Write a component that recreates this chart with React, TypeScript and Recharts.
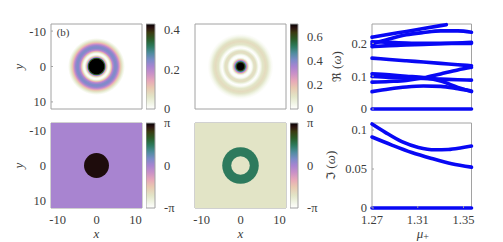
import React from "react";
import { ScatterChart, Scatter, ComposedChart, Line, Area, XAxis, YAxis, ReferenceArea, ReferenceDot, Label } from "recharts";

const FONT = "'Liberation Serif', serif";
const TXT = "#3c3c3c";
const EDGE = "#a2a2a2";
const GUT = 46;

const mapValues = [0, 0.08, 0.15, 0.25, 0.33, 0.42, 0.5, 0.58, 0.66, 0.74, 0.82, 0.9, 0.96, 1];
const mapColors = ["#ffffff", "#eef2e0", "#e2e4c6", "#e8c8b0", "#e8a8b8", "#c890c8", "#a884d0", "#7a8cc8", "#4d8c9c", "#2c7a5c", "#2a5c28", "#3a3a10", "#2a1010", "#000000"];

const densityRadii1 = [0, 1.9, 2.19, 2.44, 2.7, 2.96, 3.16, 3.42, 3.68, 3.93, 4.19, 4.63, 5.01, 5.4, 5.78, 6.17, 6.56, 6.94, 7.33];
const densityValues1 = [0.43, 0.43, 0.32, 0.17, 0.07, 0.015, 0.002, 0.02, 0.07, 0.14, 0.2, 0.24, 0.245, 0.225, 0.175, 0.11, 0.06, 0.025, 0];
const densityRadii2 = [0, 0.9, 1.16, 1.29, 1.54, 1.8, 2.06, 2.3, 2.6, 2.96, 3.2, 3.47, 3.98, 4.37, 4.76, 5.14, 5.66, 6.43, 6.94, 7.46, 7.97, 8.48];
const densityValues2 = [0.72, 0.7, 0.58, 0.5, 0.35, 0.2, 0.07, 0.01, 0, 0.02, 0.07, 0.12, 0.12, 0.05, 0, 0.03, 0.1, 0.13, 0.11, 0.06, 0.02, 0];

const phaseBg1 = 0;
const phaseDisc1 = [{ x: 0, y: 0, radius: 3.21, phase: 2.96 }];
const phaseBg2 = -2.2;
const phaseDisc2 = [
  { x: 0, y: 0, radius: 4.7, phase: 1.5 },
  { x: 0, y: 0, radius: 2.39, phase: -2.2 },
];

const heatTicks = [-10, 0, 10];
const bar1Ticks = [0, 0.2, 0.4];
const bar2Ticks = [0, 0.2, 0.4, 0.6];
const phaseTicks = [-Math.PI, 0, Math.PI];
const phaseLabels = ["-π", "0", "π"];
const muTicks = [1.27, 1.31, 1.35];
const reTicks = [0, 0.1, 0.2];
const imTicks = [0, 0.05, 0.1];

const mu = [1.27, 1.285, 1.3, 1.315, 1.33, 1.345, 1.357];
const muShort = [1.27, 1.285, 1.3, 1.315, 1.33, 1.335];
const re0 = [0, 0, 0, 0, 0, 0, 0];
const re1 = [0.219, 0.228, 0.236, 0.245, 0.254, 0.257];
const re2 = [0.198, 0.213, 0.226, 0.233, 0.238, 0.238, 0.234];
const re3 = [0.19, 0.193, 0.195, 0.197, 0.199, 0.201, 0.203];
const re4 = [0.205, 0.203, 0.201, 0.2, 0.2, 0.2, 0.2];
const re5 = [0.155, 0.151, 0.147, 0.143, 0.139, 0.135, 0.132];
const re6 = [0.107, 0.104, 0.1, 0.096, 0.085, 0.066, 0.053];
const re7 = [0.099, 0.096, 0.094, 0.093, 0.091, 0.089, 0.088];
const re8 = [0.082, 0.084, 0.087, 0.095, 0.107, 0.119, 0.127];
const re9 = [0.053, 0.061, 0.067, 0.07, 0.069, 0.062, 0.055];

const muIm1 = [1.27, 1.2816, 1.2961, 1.3106, 1.3251, 1.3367, 1.3483, 1.357];
const im1 = [0.1077, 0.097, 0.085, 0.0777, 0.0747, 0.0751, 0.0773, 0.0794];
const muIm2 = [1.27, 1.2874, 1.3048, 1.3222, 1.3396, 1.357];
const im2 = [0.091, 0.0807, 0.0712, 0.0635, 0.0567, 0.0524];
const muIm0 = [1.27, 1.357];
const im0 = [0, 0];

const hex = (c: string) => [1, 3, 5].map((i) => parseInt(c.slice(i, i + 2), 16));
function colorAt(t: number) {
  const v = Math.max(0, Math.min(1, t));
  let i = 0;
  while (i < mapValues.length - 2 && v > mapValues[i + 1]) i++;
  const f = (v - mapValues[i]) / (mapValues[i + 1] - mapValues[i]);
  const a = hex(mapColors[i]);
  const b = hex(mapColors[i + 1]);
  return `rgb(${a.map((x, k) => Math.round(x + (b[k] - x) * f)).join(",")})`;
}
const phaseColor = (p: number) => colorAt((p + Math.PI) / (2 * Math.PI));

function radialStops(radii: number[], values: number[], max: number) {
  const R = radii[radii.length - 1];
  const out: { o: number; c: string }[] = [];
  for (let i = 0; i < radii.length - 1; i++) {
    for (let k = 0; k < 5; k++) {
      const f = k / 5;
      const r = radii[i] + (radii[i + 1] - radii[i]) * f;
      const v = values[i] + (values[i + 1] - values[i]) * f;
      out.push({ o: r / R, c: colorAt(v / max) });
    }
  }
  out.push({ o: 1, c: colorAt(values[values.length - 1] / max) });
  return out;
}

const PX_PER_UNIT = 91 / 23.4;
const tickStyle = { fontFamily: FONT, fontSize: 12.5, fill: TXT };
const axisLabelStyle = { fontFamily: FONT, fontSize: 13, fontStyle: "italic", fill: TXT, textAnchor: "middle" } as any;

type Box = { l: number; t: number; w: number; h: number };
function place(box: Box, gutL: number, gutB: number, showX: boolean) {
  const extra = showX ? 0 : 8;
  return {
    style: { position: "absolute" as const, left: box.l - gutL, top: box.t - 6 },
    width: gutL + box.w + 8,
    height: box.h + 6 + gutB + extra,
    margin: { top: 6, right: 8, left: 0, bottom: extra },
  };
}

function HeatFrame({ box, showX, yLabel = "y", children }: any) {
  const p = place(box, GUT, showX ? 34 : 2, showX);
  return (
    <div style={p.style}>
      <ScatterChart width={p.width} height={p.height} margin={p.margin}>
        <XAxis
          type="number" dataKey="x" domain={[-11.7, 11.7]} ticks={heatTicks} interval={0}
          height={showX ? 34 : 2} tick={showX ? { ...tickStyle } : false} tickSize={-2} tickMargin={9}
          axisLine={false} tickLine={{ stroke: EDGE }}
        >
          {showX ? <Label value="x" position="insideBottom" offset={4} style={axisLabelStyle} /> : null}
        </XAxis>
        <YAxis
          type="number" dataKey="y" reversed domain={[-12, 12]} ticks={heatTicks} interval={0}
          width={GUT} tick={yLabel ? { ...tickStyle } : false} tickSize={-2} tickMargin={7}
          axisLine={false} tickLine={{ stroke: EDGE }}
        >
          {yLabel ? <Label value={yLabel} angle={-90} position="insideLeft" offset={13} style={axisLabelStyle} /> : null}
        </YAxis>
        {children}
        <ReferenceArea x1={-11.7} x2={11.7} y1={-12} y2={12} fill="none" stroke={EDGE} strokeWidth={1} fillOpacity={0} />
      </ScatterChart>
    </div>
  );
}

function DensityPanel({ box, id, radii, values, max, tag }: any) {
  const stops = radialStops(radii, values, max);
  const R = radii[radii.length - 1] * PX_PER_UNIT;
  return (
    <HeatFrame box={box} showX={false} yLabel={tag ? "y" : ""}>
      <Scatter
        data={[{ x: 0, y: 0 }]} isAnimationActive={false}
        shape={(s: any) => (
          <g>
            <defs>
              <radialGradient id={id}>
                {stops.map((st, i) => (
                  <stop key={i} offset={st.o} stopColor={st.c} />
                ))}
              </radialGradient>
            </defs>
            <circle cx={s.cx} cy={s.cy} r={R} fill={`url(#${id})`} />
          </g>
        )}
      />
      {tag ? (
        <ReferenceDot x={-8.6} y={-9.6} r={0} fill="none" stroke="none"
          label={{ value: tag, position: "center", style: { fontFamily: FONT, fontSize: 11, fill: TXT } }} />
      ) : null}
    </HeatFrame>
  );
}

function PhasePanel({ box, bg, discs, yLabel }: any) {
  return (
    <HeatFrame box={box} showX yLabel={yLabel}>
      <Scatter
        data={[{ x: 0, y: 0, radius: 0, phase: bg, bg: true }, ...discs]} isAnimationActive={false}
        shape={(s: any) =>
          s.payload.bg ? (
            <rect x={GUT} y={6} width={box.w} height={box.h} fill={phaseColor(bg)} />
          ) : (
            <circle cx={s.cx} cy={s.cy} r={s.payload.radius * PX_PER_UNIT} fill={phaseColor(s.payload.phase)} />
          )
        }
      />
    </HeatFrame>
  );
}

function ColorBar({ box, id, min, max, ticks, labels }: any) {
  const n = 40;
  const rows = [
    { x: 0, range: [min, max] },
    { x: 1, range: [min, max] },
  ];
  return (
    <div style={{ position: "absolute", left: box.l, top: box.t - 6 }}>
      <ComposedChart width={box.w + 32} height={box.h + 16} data={rows} margin={{ top: 6, right: 0, left: 0, bottom: 10 }}>
        <defs>
          <linearGradient id={id} x1="0" y1="1" x2="0" y2="0">
            {Array.from({ length: n + 1 }, (_, i) => (
              <stop key={i} offset={i / n} stopColor={colorAt(i / n)} />
            ))}
          </linearGradient>
        </defs>
        <XAxis type="number" dataKey="x" domain={[0, 1]} hide />
        <YAxis
          orientation="right" type="number" domain={[min, max]} ticks={ticks} interval={0} width={32}
          tick={{ ...tickStyle }} tickLine={false} axisLine={false} tickMargin={3}
          tickFormatter={(v: number) => (labels ? labels[ticks.indexOf(v)] : String(v))}
        />
        <Area dataKey="range" type="linear" fill={`url(#${id})`} fillOpacity={1} stroke="none" dot={false} activeDot={false} isAnimationActive={false} />
        <ReferenceArea x1={0} x2={1} y1={min} y2={max} fill="none" fillOpacity={0} stroke={EDGE} strokeWidth={1} />
      </ComposedChart>
    </div>
  );
}

function CurvePanel({ box, curves, yDomain, yTicks, xDomain, showX, gut, labelNode }: any) {
  const p = place(box, gut, showX ? 34 : 2, !!showX);
  return (
    <div style={p.style}>
      <ComposedChart width={p.width} height={p.height} margin={p.margin}>
        <XAxis
          type="number" dataKey="x" domain={xDomain} ticks={muTicks} interval={0} allowDuplicatedCategory={false}
          height={showX ? 34 : 2} tick={showX ? { ...tickStyle } : false} tickSize={-2} tickMargin={9}
          tickFormatter={(v: number) => v.toFixed(2)} axisLine={false} tickLine={{ stroke: EDGE }}
        >
          {showX ? (
            <Label
              position="insideBottom"
              content={(lp: any) => (
                <text x={lp.viewBox.x + lp.viewBox.width / 2 + 1} y={lp.viewBox.y + lp.viewBox.height - 4} textAnchor="middle"
                  style={{ fontFamily: FONT, fontSize: 13, fill: TXT }}>
                  <tspan fontStyle="italic">μ</tspan>
                  <tspan dy={2} fontSize={10}>+</tspan>
                </text>
              )}
            />
          ) : null}
        </XAxis>
        <YAxis
          type="number" domain={yDomain} ticks={yTicks} interval={0} width={gut}
          tick={{ ...tickStyle }} tickSize={-2} tickMargin={7} axisLine={false} tickLine={{ stroke: EDGE }}
        >
          {labelNode}
        </YAxis>
        <ReferenceArea x1={xDomain[0]} x2={xDomain[1]} y1={yDomain[0]} y2={yDomain[1]} fill="none" fillOpacity={0} stroke={EDGE} strokeWidth={1} />
        {curves.map((c: any, i: number) => (
          <Line key={i} data={c} dataKey="v" type="monotone" stroke="#0808f4" strokeWidth={3.6} strokeLinecap="round"
            dot={false} activeDot={false} isAnimationActive={false} />
        ))}
      </ComposedChart>
    </div>
  );
}

const zip = (xs: number[], vs: number[]) => xs.map((x, i) => ({ x, v: vs[i] }));
const reCurves = [
  zip(mu, re0), zip(muShort, re1), zip(mu, re2), zip(mu, re3), zip(mu, re4),
  zip(mu, re5), zip(mu, re6), zip(mu, re7), zip(mu, re8), zip(mu, re9),
];
const imCurves = [zip(muIm0, im0), zip(muIm1, im1), zip(muIm2, im2)];

const omegaLabel = (sym: string, offset: number) => (
  <Label
    position="insideLeft"
    content={(lp: any) => {
      const x = lp.viewBox.x + offset;
      const y = lp.viewBox.y + lp.viewBox.height / 2;
      return (
        <text x={x} y={y} transform={`rotate(-90 ${x} ${y})`} textAnchor="middle"
          style={{ fontFamily: FONT, fontSize: 13, fill: TXT }}>
          <tspan fontFamily="'DejaVu Sans'" fontSize={12}>{sym}</tspan>
          <tspan> (</tspan>
          <tspan fontStyle="italic">ω</tspan>
          <tspan>)</tspan>
        </text>
      );
    }}
  />
);

export default function App() {
  return (
    <div style={{ position: "absolute", left: 0, top: 0, width: 503, height: 242, overflow: "hidden", background: "#fff" }}>
      <DensityPanel box={{ l: 50.5, t: 24, w: 91, h: 85 }} id="d1" radii={densityRadii1} values={densityValues1} max={0.428} tag="(b)" />
      <DensityPanel box={{ l: 194.5, t: 24, w: 91, h: 85 }} id="d2" radii={densityRadii2} values={densityValues2} max={0.705} />
      <PhasePanel box={{ l: 50.5, t: 123, w: 91, h: 85 }} bg={phaseBg1} discs={phaseDisc1} yLabel="y" />
      <PhasePanel box={{ l: 194.5, t: 123, w: 91, h: 85 }} bg={phaseBg2} discs={phaseDisc2} yLabel="" />
      <ColorBar box={{ l: 145.5, t: 24, w: 9, h: 85 }} id="c1" min={0} max={0.428} ticks={bar1Ticks} />
      <ColorBar box={{ l: 289.5, t: 24, w: 8, h: 85 }} id="c2" min={0} max={0.705} ticks={bar2Ticks} />
      <ColorBar box={{ l: 145.5, t: 123, w: 9, h: 85 }} id="c3" min={-Math.PI} max={Math.PI} ticks={phaseTicks} labels={phaseLabels} />
      <ColorBar box={{ l: 289.5, t: 123, w: 8, h: 85 }} id="c4" min={-Math.PI} max={Math.PI} ticks={phaseTicks} labels={phaseLabels} />
      <CurvePanel box={{ l: 371.5, t: 24, w: 99.5, h: 85 }} curves={reCurves} yDomain={[0, 0.259]} yTicks={reTicks}
        xDomain={[1.27, 1.357]} gut={44} labelNode={omegaLabel("ℜ", 13)} />
      <CurvePanel box={{ l: 371.5, t: 123, w: 99.5, h: 85 }} curves={imCurves} yDomain={[0, 0.109]} yTicks={imTicks}
        xDomain={[1.27, 1.357]} showX gut={50} labelNode={omegaLabel("ℑ", 13)} />
    </div>
  );
}
